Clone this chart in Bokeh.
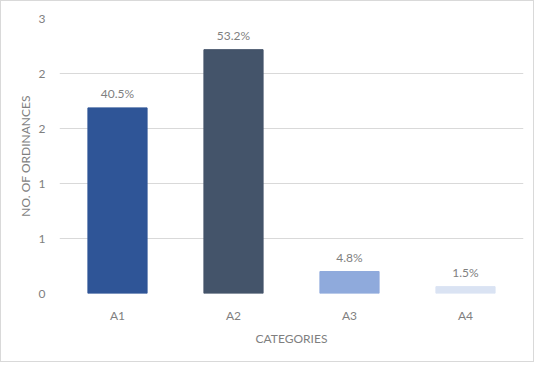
from bokeh.plotting import figure
from bokeh.models import ColumnDataSource, Range1d, FixedTicker, NumeralTickFormatter, LabelSet
from bokeh.core.properties import value
from bokeh.embed import file_html
from bokeh.resources import INLINE

categories = ["A1", "A2", "A3", "A4"]
values = [2.025, 2.66, 0.24, 0.075]
pct_labels = ["40.5%", "53.2%", "4.8%", "1.5%"]
colors = ["#2F5597", "#44546A", "#8FAADC", "#DAE3F3"]
y_ticks = [0, 0.6, 1.2, 1.8, 2.4, 3.0]

FONT = "Lato"
GRAY = "#7f7f7f"

src = ColumnDataSource(dict(cat=categories, val=values, lab=pct_labels, col=colors))

p = figure(width=534, height=362, x_range=categories, y_range=Range1d(0, 3),
           output_backend="svg", toolbar_location=None,
           min_border_left=58, min_border_right=12, min_border_top=17, min_border_bottom=70)
p.styles = {"border": "1px solid #d9d9d9", "box-sizing": "border-box"}

p.vbar(x="cat", top="val", width=0.51, color="col", source=src)

labels = LabelSet(x="cat", y="val", text="lab", source=src, text_align="center",
                  text_baseline="bottom", y_offset=7, text_font=value(FONT),
                  text_font_size="12px", text_color=GRAY)
p.add_layout(labels)

p.outline_line_color = None
p.xgrid.grid_line_color = None
p.ygrid.grid_line_color = "#d9d9d9"
p.ygrid.grid_line_width = 1

p.yaxis.ticker = FixedTicker(ticks=y_ticks)
p.yaxis.formatter = NumeralTickFormatter(format="0")

for ax in (p.xaxis[0], p.yaxis[0]):
    ax.axis_line_color = None
    ax.major_tick_line_color = None
    ax.minor_tick_line_color = None
    ax.major_label_text_font = FONT
    ax.major_label_text_font_size = "12px"
    ax.major_label_text_color = GRAY
    ax.axis_label_text_font = FONT
    ax.axis_label_text_font_size = "12px"
    ax.axis_label_text_font_style = "normal"
    ax.axis_label_text_color = GRAY

p.xaxis.axis_label = "CATEGORIES"
p.yaxis.axis_label = "NO. OF ORDINANCES"
p.xaxis.major_label_standoff = 8
p.xaxis.axis_label_standoff = 5
p.yaxis.major_label_standoff = 8
p.yaxis.axis_label_standoff = 3

open("out.html", "w").write(file_html(p, INLINE))
